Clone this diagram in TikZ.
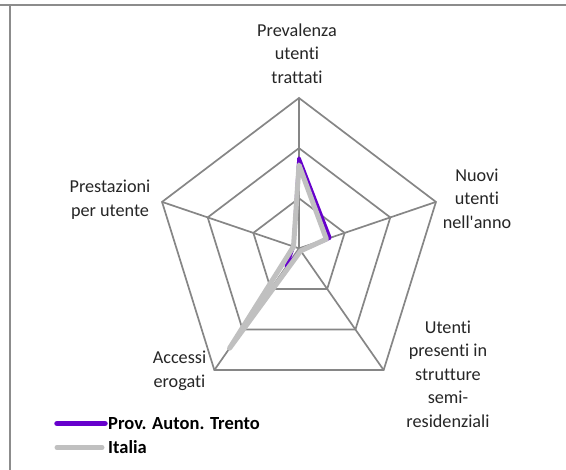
\documentclass[tikz,border=0pt]{standalone}
\usepackage{fontspec}
\newfontfamily\cfont{Carlito}[Ligatures=CommonOff]
\definecolor{gridc}{HTML}{868686}
\definecolor{trento}{HTML}{6600CC}
\definecolor{italia}{HTML}{C0C0C0}
\definecolor{framec}{HTML}{8C8C8C}
\definecolor{txt}{HTML}{262626}
\begin{document}
\begin{tikzpicture}[x=1pt,y=-1pt,
  lbl/.style={align=center, font=\cfont\fontsize{18.2}{23.5}\selectfont, text=txt, inner sep=0pt},
  gridline/.style={draw=gridc, line width=1.7pt, line join=miter},
  trentoline/.style={draw=trento, line width=3.5pt, line join=round, line cap=round},
  italialine/.style={draw=italia, line width=5pt, line join=round, line cap=round},
  legtext/.style={font=\cfont\fontsize{18.5}{20}\selectfont\bfseries, text=black, anchor=west, inner sep=0pt},
  framel/.style={draw=framec, line width=2.2pt}]
\useasboundingbox (0,0) rectangle (566,470);
\fill[white] (0,0) rectangle (566,470);
% frame
\coordinate (ftl) at (0,5);
\coordinate (ftr) at (566,5);
\coordinate (fl1) at (10,5);
\coordinate (fl2) at (10,470);
\draw[framel] (ftl) -- (ftr);
\draw[framel] (fl1) -- (fl2);
% radar
\coordinate (C) at (299,248.4);
\begin{scope}[shift={(C)}, x=144pt, y=150.4pt]
  \foreach \r in {0.3333,0.6667,1}
    \draw[gridline] (90:\r) -- (18:\r) -- (-54:\r) -- (-126:\r) -- (162:\r) -- cycle;
  \coordinate (O) at (0,0);
  \foreach \a/\n in {90/A,18/B,-54/D,-126/E,162/F}
    \coordinate (ax\n) at (\a:1);
  \draw[gridline] (O) -- (axA);
  \draw[gridline] (O) -- (axB);
  \draw[gridline] (O) -- (axD);
  \draw[gridline] (O) -- (axE);
  \draw[gridline] (O) -- (axF);
  % Trento
  \coordinate (t1) at (90:0.60);
  \coordinate (t2) at (18:0.226);
  \coordinate (t3) at (-54:0.02);
  \coordinate (t4) at (-126:0.15);
  \coordinate (t5) at (162:0.04);
  \draw[trentoline] (t1) -- (t2) -- (t3) -- (t4) -- (t5) -- cycle;
  % Italia
  \coordinate (i1) at (90:0.555);
  \coordinate (i2) at (18:0.20);
  \coordinate (i3) at (-54:0.02);
  \coordinate (i4) at (-126:0.82);
  \coordinate (i5) at (162:0.04);
  \draw[italialine] (i1) -- (i2) -- (i3) -- (i4) -- (i5) -- cycle;
\end{scope}
% labels
\node[lbl] (prev) at (297,53.5) {Prevalenza\\utenti\\trattati};
\node[lbl] (nuovi) at (477,198.5) {Nuovi\\utenti\\nell'anno};
\node[lbl] (semi) at (448,374) {Utenti\\presenti in\\strutture\\semi-\\residenziali};
\node[lbl] (acc) at (179.5,371) {Accessi\\erogati};
\node[lbl] (prest) at (110,199.5) {Prestazioni\\per utente};
% legend
\coordinate (l1a) at (57,423.5);
\coordinate (l1b) at (105,423.5);
\coordinate (l2a) at (57,447.5);
\coordinate (l2b) at (102,447.5);
\draw[trento, line width=5.5pt, line cap=round] (l1a) -- (l1b);
\draw[italia, line width=5pt, line cap=round] (l2a) -- (l2b);
\node[legtext] (leg1) at (108,423.5) {Prov. Auton. Trento};
\node[legtext] (leg2) at (108,447.5) {Italia};
\end{tikzpicture}
\end{document}
